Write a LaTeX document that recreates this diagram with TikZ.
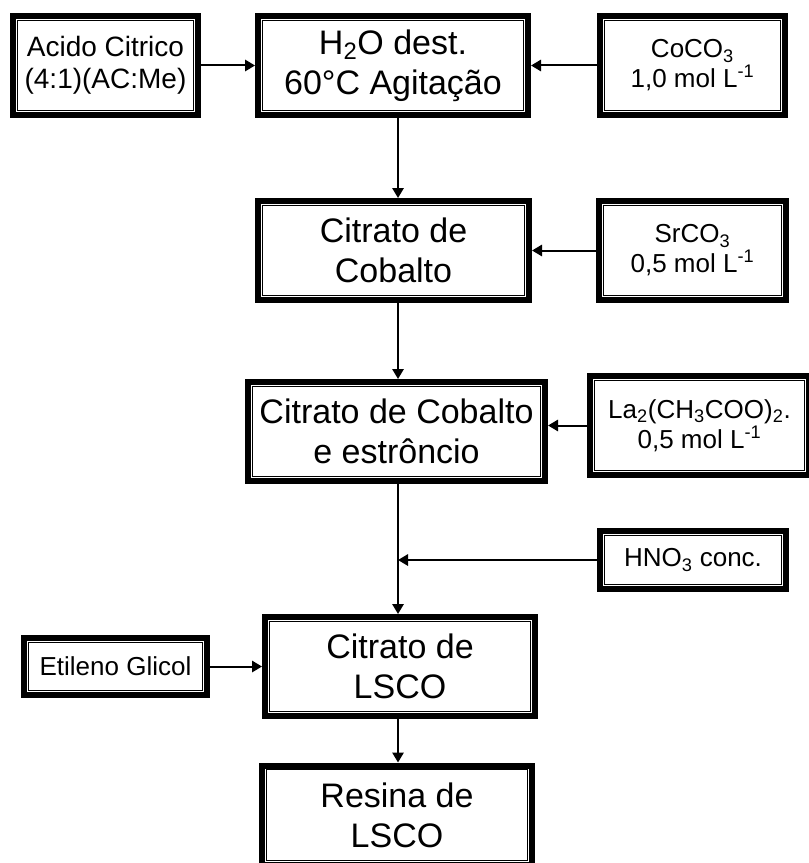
\documentclass[tikz,border=0pt]{standalone}
\usepackage{amsmath}
\usepackage{fontspec}
\setmainfont{Liberation Sans}
\usetikzlibrary{arrows.meta}
\newcommand{\ind}[1]{$_{\text{#1}}$}
\newcommand{\sobre}[1]{$^{\text{#1}}$}

\begin{document}
\begin{tikzpicture}[x=0.75pt,y=-0.75pt,
    caixa/.style={draw, line width=4.5pt, align=center, inner sep=0pt,
      path picture={\draw[line width=0.8pt]
        ([shift={(3.3pt,-3.3pt)}]path picture bounding box.north west) rectangle
        ([shift={(-3.3pt,3.3pt)}]path picture bounding box.south east);}},
    etapa/.style={caixa, minimum height=74.25pt, font=\fontsize{25.5}{30}\selectfont},
    insumo/.style={caixa, minimum height=74.25pt, font=\fontsize{19.5}{22.5}\selectfont},
    seta/.style={line width=1.5pt, -{Triangle[length=7.5pt,width=8.5pt]}}]
    \useasboundingbox (0,0) rectangle (809,863);
    \coordinate (eixo) at (398,0);

    % etapas
    \node[etapa, minimum width=202.5pt] (agua) at (393,65.5) {H\ind{2}O dest.\\60°C Agitação};
    \node[etapa, minimum width=203.25pt] (citco) at (393.5,250.5) {Citrato de\\Cobalto};
    \node[etapa, minimum width=222.75pt] (citcosr) at (396.5,431.5) {Citrato de Cobalto\\e estrôncio};
    \node[etapa, minimum width=202.5pt] (citlsco) at (400,666.5) {Citrato de\\LSCO};
    \node[etapa, minimum width=202.5pt] (resina) at (397,815) {Resina de\\LSCO};

    % reagentes
    \node[insumo, minimum width=138.75pt, font=\fontsize{21}{24}\selectfont] (acido) at (105.5,65.5) {Acido Citrico\\(4:1)(AC:Me)};
    \node[insumo, minimum width=138.75pt] (coco) at (692.5,65.5) {CoCO\ind{3}\\1,0 mol L\sobre{-1}};
    \node[insumo, minimum width=140.25pt] (srco) at (692.5,250.5) {SrCO\ind{3}\\0,5 mol L\sobre{-1}};
    \node[insumo, minimum width=164.25pt] (lacet) at (699.5,425.5) {La\ind{2}(CH\ind{3}COO)\ind{2}.\\0,5 mol L\sobre{-1}};
    \node[insumo, minimum width=139.5pt, minimum height=43.5pt] (hno) at (693,560) {HNO\ind{3} conc.};
    \node[insumo, minimum width=137.25pt, minimum height=42.75pt] (etileno) at (115.5,666.5) {Etileno Glicol};

    % setas
    \draw[seta] (acido) -- (agua);
    \draw[seta] (coco) -- (agua);
    \draw[seta] (agua.south -| eixo) -- (citco.north -| eixo);
    \draw[seta] (srco) -- (citco);
    \draw[seta] (citco.south -| eixo) -- (citcosr.north -| eixo);
    \draw[seta] (lacet.west) -- (lacet.west -| citcosr.east);
    \coordinate (juncao) at (eixo |- hno.west);
    \draw[seta] (citcosr.south -| eixo) -- (citlsco.north -| eixo);
    \draw[seta] (hno) -- (juncao);
    \draw[seta] (etileno) -- (citlsco);
    \draw[seta] (citlsco.south -| eixo) -- (resina.north -| eixo);
\end{tikzpicture}
\end{document}
